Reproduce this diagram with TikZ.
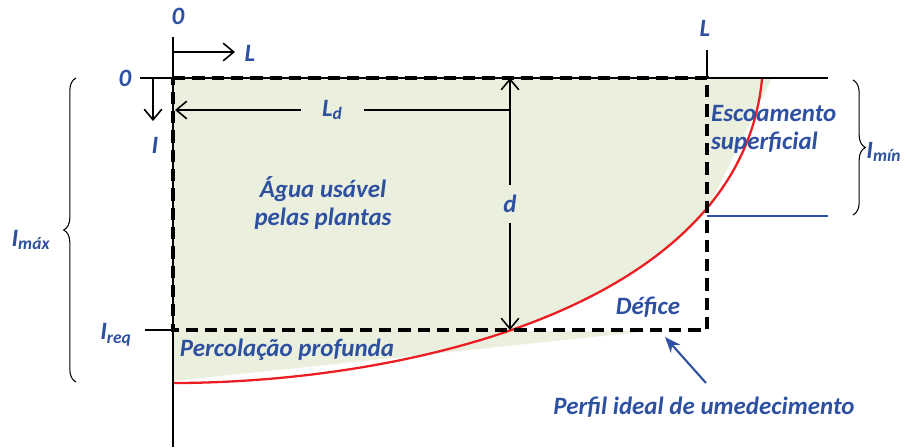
\documentclass[tikz,border=0pt]{standalone}
\usepackage{fontspec}
\setmainfont{Carlito}
\usetikzlibrary{arrows.meta,decorations.pathreplacing}
\definecolor{azul}{RGB}{46,80,160}
\definecolor{verde}{RGB}{235,240,222}
\definecolor{vermelho}{RGB}{236,30,36}
\begin{document}
\begin{tikzpicture}[
		x=0.02cm, y=-0.02cm,
		lbl/.style={
			text=azul, font=\fontsize{14.2}{16}\selectfont\bfseries\itshape, inner sep=1pt
		},
		eixo/.style={line width=1.3pt},
		limite/.style={line width=2.2pt, dash pattern=on 7pt off 4pt},
		seta/.style={line width=0.9pt, -{Straight Barb[length=6pt,width=10pt]}},
		cota/.style={line width=0.9pt, {Straight Barb[length=6pt,width=10pt]}-{Straight Barb[length=6pt,width=10pt]}},
		chave/.style={decorate, decoration={brace, amplitude=7pt}, line width=0.6pt}
		]
		\useasboundingbox (0,0) rectangle (905,447);
		
		% pontos principais
		\coordinate (O) at (173,78);
		\coordinate (eixoTopo) at (173,37);
		\coordinate (eixoBase) at (173,447);
		\coordinate (supEsq) at (140,78);
		\coordinate (supDir) at (828,78);
		\coordinate (LTopo) at (707,50);
		\coordinate (A) at (707,78);
		\coordinate (B) at (707,330);
		\coordinate (C) at (173,330);
		\coordinate (reqEsq) at (145,330);
		\coordinate (perfil0) at (173,383);
		\coordinate (perfil1) at (762,79);
		
		% area umedecida
		\fill[verde] (173,78) -- (772,78) -- (712,200) -- (707,210) -- (707,330)
			-- (660,330) -- (173,381) -- cycle;
		\begin{scope}
			\clip (O) rectangle (B);
			\fill[white] (perfil0) .. controls (400,383) and (740,310) .. (perfil1)
				-- (800,79) -- (800,420) -- (173,420) -- cycle; % defice
		\end{scope}
		
		% perfil ideal de umedecimento
		\draw[vermelho, line width=1.3pt] (perfil0) .. controls (400,383) and (740,310) .. (perfil1);
		
		\draw[eixo] (eixoTopo) -- (eixoBase);
		\draw[eixo] (supEsq) -- (supDir);
		\draw[eixo] (LTopo) -- (A);
		\draw[eixo] (reqEsq) -- (C);
		\draw[azul, line width=0.6pt] (707,216) -- (828,216);
		
		\draw[limite] (O) -- (A) -- (B) -- (C) -- cycle;
		
		% sentidos dos eixos
		\coordinate (setaL0) at (173,52);
		\coordinate (setaL1) at (235,52);
		\coordinate (setaI0) at (153,78);
		\coordinate (setaI1) at (153,121);
		\draw[seta] (setaL0) -- (setaL1);
		\draw[seta] (setaI0) -- (setaI1);
		
		% cotas
		\coordinate (dTopo) at (510,78);
		\coordinate (dBase) at (510,330);
		\coordinate (LdDir) at (510,110);
		\coordinate (LdEsq) at (175,110);
		\draw[seta] (LdDir) -- node[lbl, fill=verde, inner xsep=12pt, pos=0.53] (Ld) {L\textsubscript{d}} (LdEsq);
		\draw[cota] (dTopo) -- node[lbl, fill=verde, inner ysep=6pt] (d) {d} (dBase);
		
		% chaves
		\draw[chave] (853,80) -- (853,215);
		\draw[chave] (76,382) -- (76,78);
		
		% rotulos
		\node[lbl] (zeroTopo) at (178,16) {0};
		\node[lbl] (zeroEsq) at (125,78) {0};
		\node[lbl] (labL) at (250,53) {L};
		\node[lbl] (labI) at (155,145) {I};
		\node[lbl] (labLdir) at (705,28) {L};
		\node[lbl] (Imax) at (31,240) {I\textsubscript{máx}};
		\node[lbl] (Ireq) at (116,335) {I\textsubscript{req}};
		\node[lbl] (Imin) at (884,152) {I\textsubscript{mín}};
		\node[lbl, align=center] (agua) at (323,203) {Água usável\\pelas plantas};
		\node[lbl, align=left, anchor=west] (escoa) at (709,129) {Escoamento\\superficial};
		\node[lbl] (defice) at (648,307) {Défice};
		\node[lbl] (perc) at (287,350) {Percolação profunda};
		\node[lbl] (perfil) at (704,407) {Perfil ideal de umedecimento};
		
		\coordinate (perfilSeta) at (665,337);
		\coordinate (perfilCauda) at (706,383);
		\draw[azul, line width=1.2pt, -{Stealth[length=9pt,width=7pt]}] (perfilCauda) -- (perfilSeta);
	\end{tikzpicture}
\end{document}
